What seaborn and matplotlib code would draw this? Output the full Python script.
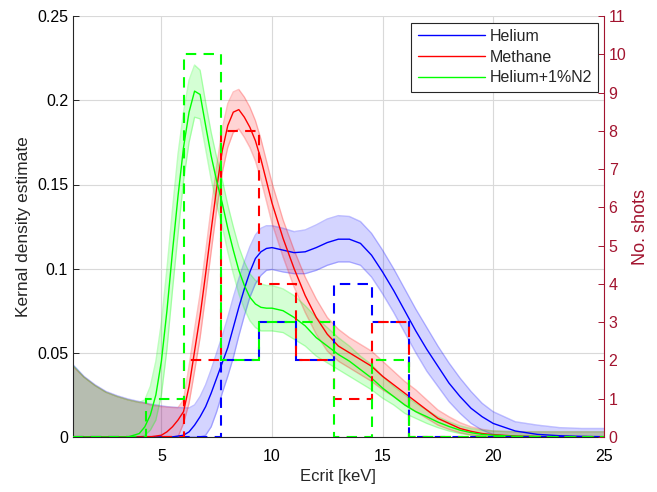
import numpy as np
import pandas as pd
import seaborn as sns
import matplotlib.pyplot as plt

sns.set_style('white')
plt.rcParams['font.family'] = ['Liberation Sans', 'DejaVu Sans']

# energy grid (keV) the curves were read on
x_kev = [1, 1.5, 2, 2.5, 3, 3.5, 4, 4.25, 4.5, 4.75, 5, 5.25, 5.5, 5.75, 6, 6.25,
         6.5, 6.75, 7, 7.25, 7.5, 7.75, 8, 8.25, 8.5, 8.75, 9, 9.25, 9.5, 9.75, 10,
         10.5, 11, 11.5, 12, 12.5, 13, 13.5, 14, 14.5, 15, 15.5, 16, 16.5, 17, 17.5,
         18, 18.5, 19, 19.5, 20, 21, 22, 23, 24, 25]

# kernel density estimates (centre line, upper and lower band)
he_kde = [0, 0, 0, 0, 0, 0, 0, 0, 0, 0, 0, 0, 0, 0.0005, 0.001, 0.003,
          0.007, 0.012, 0.018, 0.026, 0.035, 0.044, 0.053, 0.065, 0.077, 0.088, 0.098, 0.106, 0.110, 0.112, 0.1125,
          0.111, 0.1095, 0.110, 0.1125, 0.1155, 0.1175, 0.1175, 0.115, 0.108, 0.098, 0.087, 0.075, 0.063, 0.052, 0.042,
          0.032, 0.024, 0.017, 0.012, 0.008, 0.0035, 0.0015, 0.0007, 0.0003, 0.0001]
he_hi = [0.043, 0.036, 0.031, 0.027, 0.0245, 0.0225, 0.021, 0.0203, 0.0195, 0.019, 0.0185, 0.018, 0.0177, 0.0175, 0.0173, 0.0172,
         0.019, 0.024, 0.031, 0.040, 0.050, 0.060, 0.071, 0.083, 0.094, 0.104, 0.113, 0.120, 0.124, 0.1255, 0.1255,
         0.124, 0.122, 0.123, 0.126, 0.1295, 0.1315, 0.131, 0.128, 0.121, 0.111, 0.100, 0.088, 0.076, 0.065, 0.054,
         0.044, 0.035, 0.027, 0.020, 0.015, 0.009, 0.007, 0.0055, 0.005, 0.005]
he_lo = [0, 0, 0, 0, 0, 0, 0, 0, 0, 0, 0, 0, 0, 0, 0, 0,
         0, 0, 0.001, 0.006, 0.015, 0.026, 0.036, 0.047, 0.060, 0.072, 0.083, 0.091, 0.096, 0.099, 0.0995,
         0.098, 0.097, 0.097, 0.099, 0.102, 0.104, 0.104, 0.102, 0.095, 0.085, 0.074, 0.062, 0.050, 0.039, 0.030,
         0.021, 0.014, 0.008, 0.004, 0.0015, 0, 0, 0, 0, 0]

me_kde = [0, 0, 0, 0, 0, 0, 0, 0, 0, 0.0005, 0.001, 0.003, 0.006, 0.010, 0.015, 0.030,
          0.051, 0.072, 0.097, 0.123, 0.148, 0.170, 0.185, 0.193, 0.1945, 0.190, 0.184, 0.176, 0.165, 0.152, 0.139,
          0.118, 0.100, 0.084, 0.071, 0.061, 0.054, 0.050, 0.046, 0.042, 0.036, 0.031, 0.026, 0.021, 0.016, 0.011,
          0.008, 0.005, 0.0033, 0.002, 0.0013, 0.0005, 0.0002, 0, 0, 0]
me_hi = [0.042, 0.0355, 0.0305, 0.0265, 0.024, 0.022, 0.0205, 0.020, 0.019, 0.0185, 0.018, 0.0177, 0.0175, 0.0173, 0.022, 0.042,
         0.064, 0.085, 0.110, 0.136, 0.161, 0.183, 0.198, 0.205, 0.2065, 0.202, 0.196, 0.188, 0.177, 0.164, 0.151,
         0.129, 0.111, 0.095, 0.082, 0.071, 0.064, 0.059, 0.055, 0.051, 0.045, 0.039, 0.033, 0.028, 0.022, 0.016,
         0.012, 0.0085, 0.006, 0.0045, 0.0035, 0.003, 0.003, 0.003, 0.003, 0.003]
me_lo = [0, 0, 0, 0, 0, 0, 0, 0, 0, 0, 0, 0, 0, 0, 0.008, 0.020,
         0.039, 0.059, 0.084, 0.110, 0.135, 0.157, 0.172, 0.181, 0.183, 0.178, 0.172, 0.164, 0.153, 0.140, 0.127,
         0.107, 0.089, 0.074, 0.061, 0.051, 0.045, 0.041, 0.037, 0.033, 0.028, 0.024, 0.019, 0.015, 0.011, 0.007,
         0.0045, 0.0025, 0.0012, 0.0005, 0, 0, 0, 0, 0, 0]

hn_kde = [0, 0, 0, 0, 0, 0, 0.002, 0.006, 0.013, 0.025, 0.045, 0.075, 0.110, 0.143, 0.172, 0.193,
          0.2055, 0.2035, 0.185, 0.167, 0.152, 0.139, 0.124, 0.111, 0.099, 0.090, 0.083, 0.079, 0.077, 0.0765, 0.0765,
          0.075, 0.071, 0.066, 0.059, 0.054, 0.049, 0.045, 0.040, 0.035, 0.029, 0.024, 0.019, 0.015, 0.012, 0.0088,
          0.0062, 0.004, 0.0025, 0.0015, 0.001, 0.0004, 0.0002, 0.0001, 0, 0]
hn_hi = [0.0425, 0.0355, 0.0305, 0.0265, 0.024, 0.022, 0.0205, 0.022, 0.030, 0.045, 0.068, 0.100, 0.135, 0.168, 0.193, 0.212,
         0.221, 0.218, 0.199, 0.181, 0.166, 0.153, 0.138, 0.125, 0.113, 0.104, 0.097, 0.093, 0.091, 0.090, 0.090,
         0.088, 0.084, 0.078, 0.071, 0.065, 0.059, 0.054, 0.048, 0.043, 0.036, 0.030, 0.025, 0.020, 0.016, 0.012,
         0.009, 0.0065, 0.005, 0.004, 0.0035, 0.003, 0.003, 0.003, 0.003, 0.003]
hn_lo = [0, 0, 0, 0, 0, 0, 0, 0.001, 0.004, 0.010, 0.025, 0.052, 0.087, 0.120, 0.152, 0.175,
         0.190, 0.189, 0.171, 0.153, 0.138, 0.125, 0.110, 0.097, 0.085, 0.076, 0.069, 0.065, 0.063, 0.063, 0.063,
         0.062, 0.058, 0.054, 0.048, 0.044, 0.040, 0.036, 0.032, 0.028, 0.023, 0.019, 0.014, 0.011, 0.008, 0.0055,
         0.0035, 0.002, 0.001, 0.0005, 0, 0, 0, 0, 0, 0]

# shot histograms
bin_edges = [1, 4.3, 6.0, 7.7, 9.4, 11.1, 12.8, 14.5, 16.2, 25]
he_shots = [0, 0, 0, 2, 3, 2, 4, 3, 0]
me_shots = [0, 0, 2, 8, 4, 2, 1, 3, 0]
hn_shots = [0, 1, 10, 2, 3, 3, 0, 2, 0]

gases = ['Helium', 'Methane', 'Helium+1%N2']
colors = {'Helium': (0, 0, 1), 'Methane': (1, 0, 0), 'Helium+1%N2': (0, 1, 0)}
kde = {'Helium': he_kde, 'Methane': me_kde, 'Helium+1%N2': hn_kde}
hi = {'Helium': he_hi, 'Methane': me_hi, 'Helium+1%N2': hn_hi}
lo = {'Helium': he_lo, 'Methane': me_lo, 'Helium+1%N2': hn_lo}
shots = {'Helium': he_shots, 'Methane': me_shots, 'Helium+1%N2': hn_shots}

df = pd.concat([pd.DataFrame({'Ecrit': x_kev, 'density': kde[g], 'gas': g}) for g in gases])

fig = plt.figure(figsize=(6.57, 4.92), dpi=100)
ax = fig.add_axes([0.111, 0.112, 0.808, 0.855])

for g in gases:
    ax.fill_between(x_kev, lo[g], hi[g], color=colors[g], alpha=0.17, lw=0)
    ax.plot(x_kev, hi[g], color=colors[g], alpha=0.25, lw=1)
    ax.plot(x_kev, lo[g], color=colors[g], alpha=0.25, lw=1)

sns.lineplot(data=df, x='Ecrit', y='density', hue='gas', palette=colors, ax=ax, lw=1, legend=False)

ax.set_xlim(1, 25)
ax.set_ylim(0, 0.25)
ax.set_xticks([5, 10, 15, 20, 25])
ax.set_yticks([0, 0.05, 0.1, 0.15, 0.2, 0.25])
ax.set_yticklabels(['0', '0.05', '0.1', '0.15', '0.2', '0.25'])
ax.grid(True, color='0.85', lw=0.8)
ax.set_xlabel('Ecrit [keV]', fontsize=12, labelpad=3)
ax.set_ylabel('Kernal density estimate', fontsize=12.5)
ax.tick_params(direction='in', length=4, labelsize=11.5, colors='0.15', width=0.7)
ax.tick_params(axis='x', pad=9)
ax.tick_params(axis='both', labelcolor='black')
for s in ['top', 'right']:
    ax.spines[s].set_visible(False)
for s in ['left', 'bottom']:
    ax.spines[s].set_color('0.15')
    ax.spines[s].set_linewidth(0.8)

# second axis with the shot counts
dark_red = (0.635, 0.078, 0.184)
ax2 = ax.twinx()
for g in gases:
    ax2.stairs(shots[g], bin_edges, baseline=0, color=colors[g], ls=(0, (5, 3.5)), lw=1.5)
ax2.set_ylim(0, 11)
ax2.set_yticks(range(0, 12))
ax2.set_ylabel('No. shots', color=dark_red, fontsize=13)
ax2.tick_params(direction='in', length=4, labelsize=11.5, colors=dark_red, width=0.7)
for s in ['top', 'left', 'bottom']:
    ax2.spines[s].set_visible(False)
ax2.spines['right'].set_color(dark_red)
ax2.spines['right'].set_linewidth(0.8)

handles = [plt.Line2D([], [], color=colors[g], lw=1) for g in gases]
leg = ax2.legend(handles, gases, loc='upper right', bbox_to_anchor=(0.99, 0.985), fontsize=11.5,
                 frameon=True, fancybox=False, framealpha=1, edgecolor='0.15',
                 handlelength=4.2, handletextpad=0.3, borderpad=0.4, labelspacing=0.35, borderaxespad=0)
leg.get_frame().set_linewidth(0.8)

fig.savefig('out.png', dpi=100)
